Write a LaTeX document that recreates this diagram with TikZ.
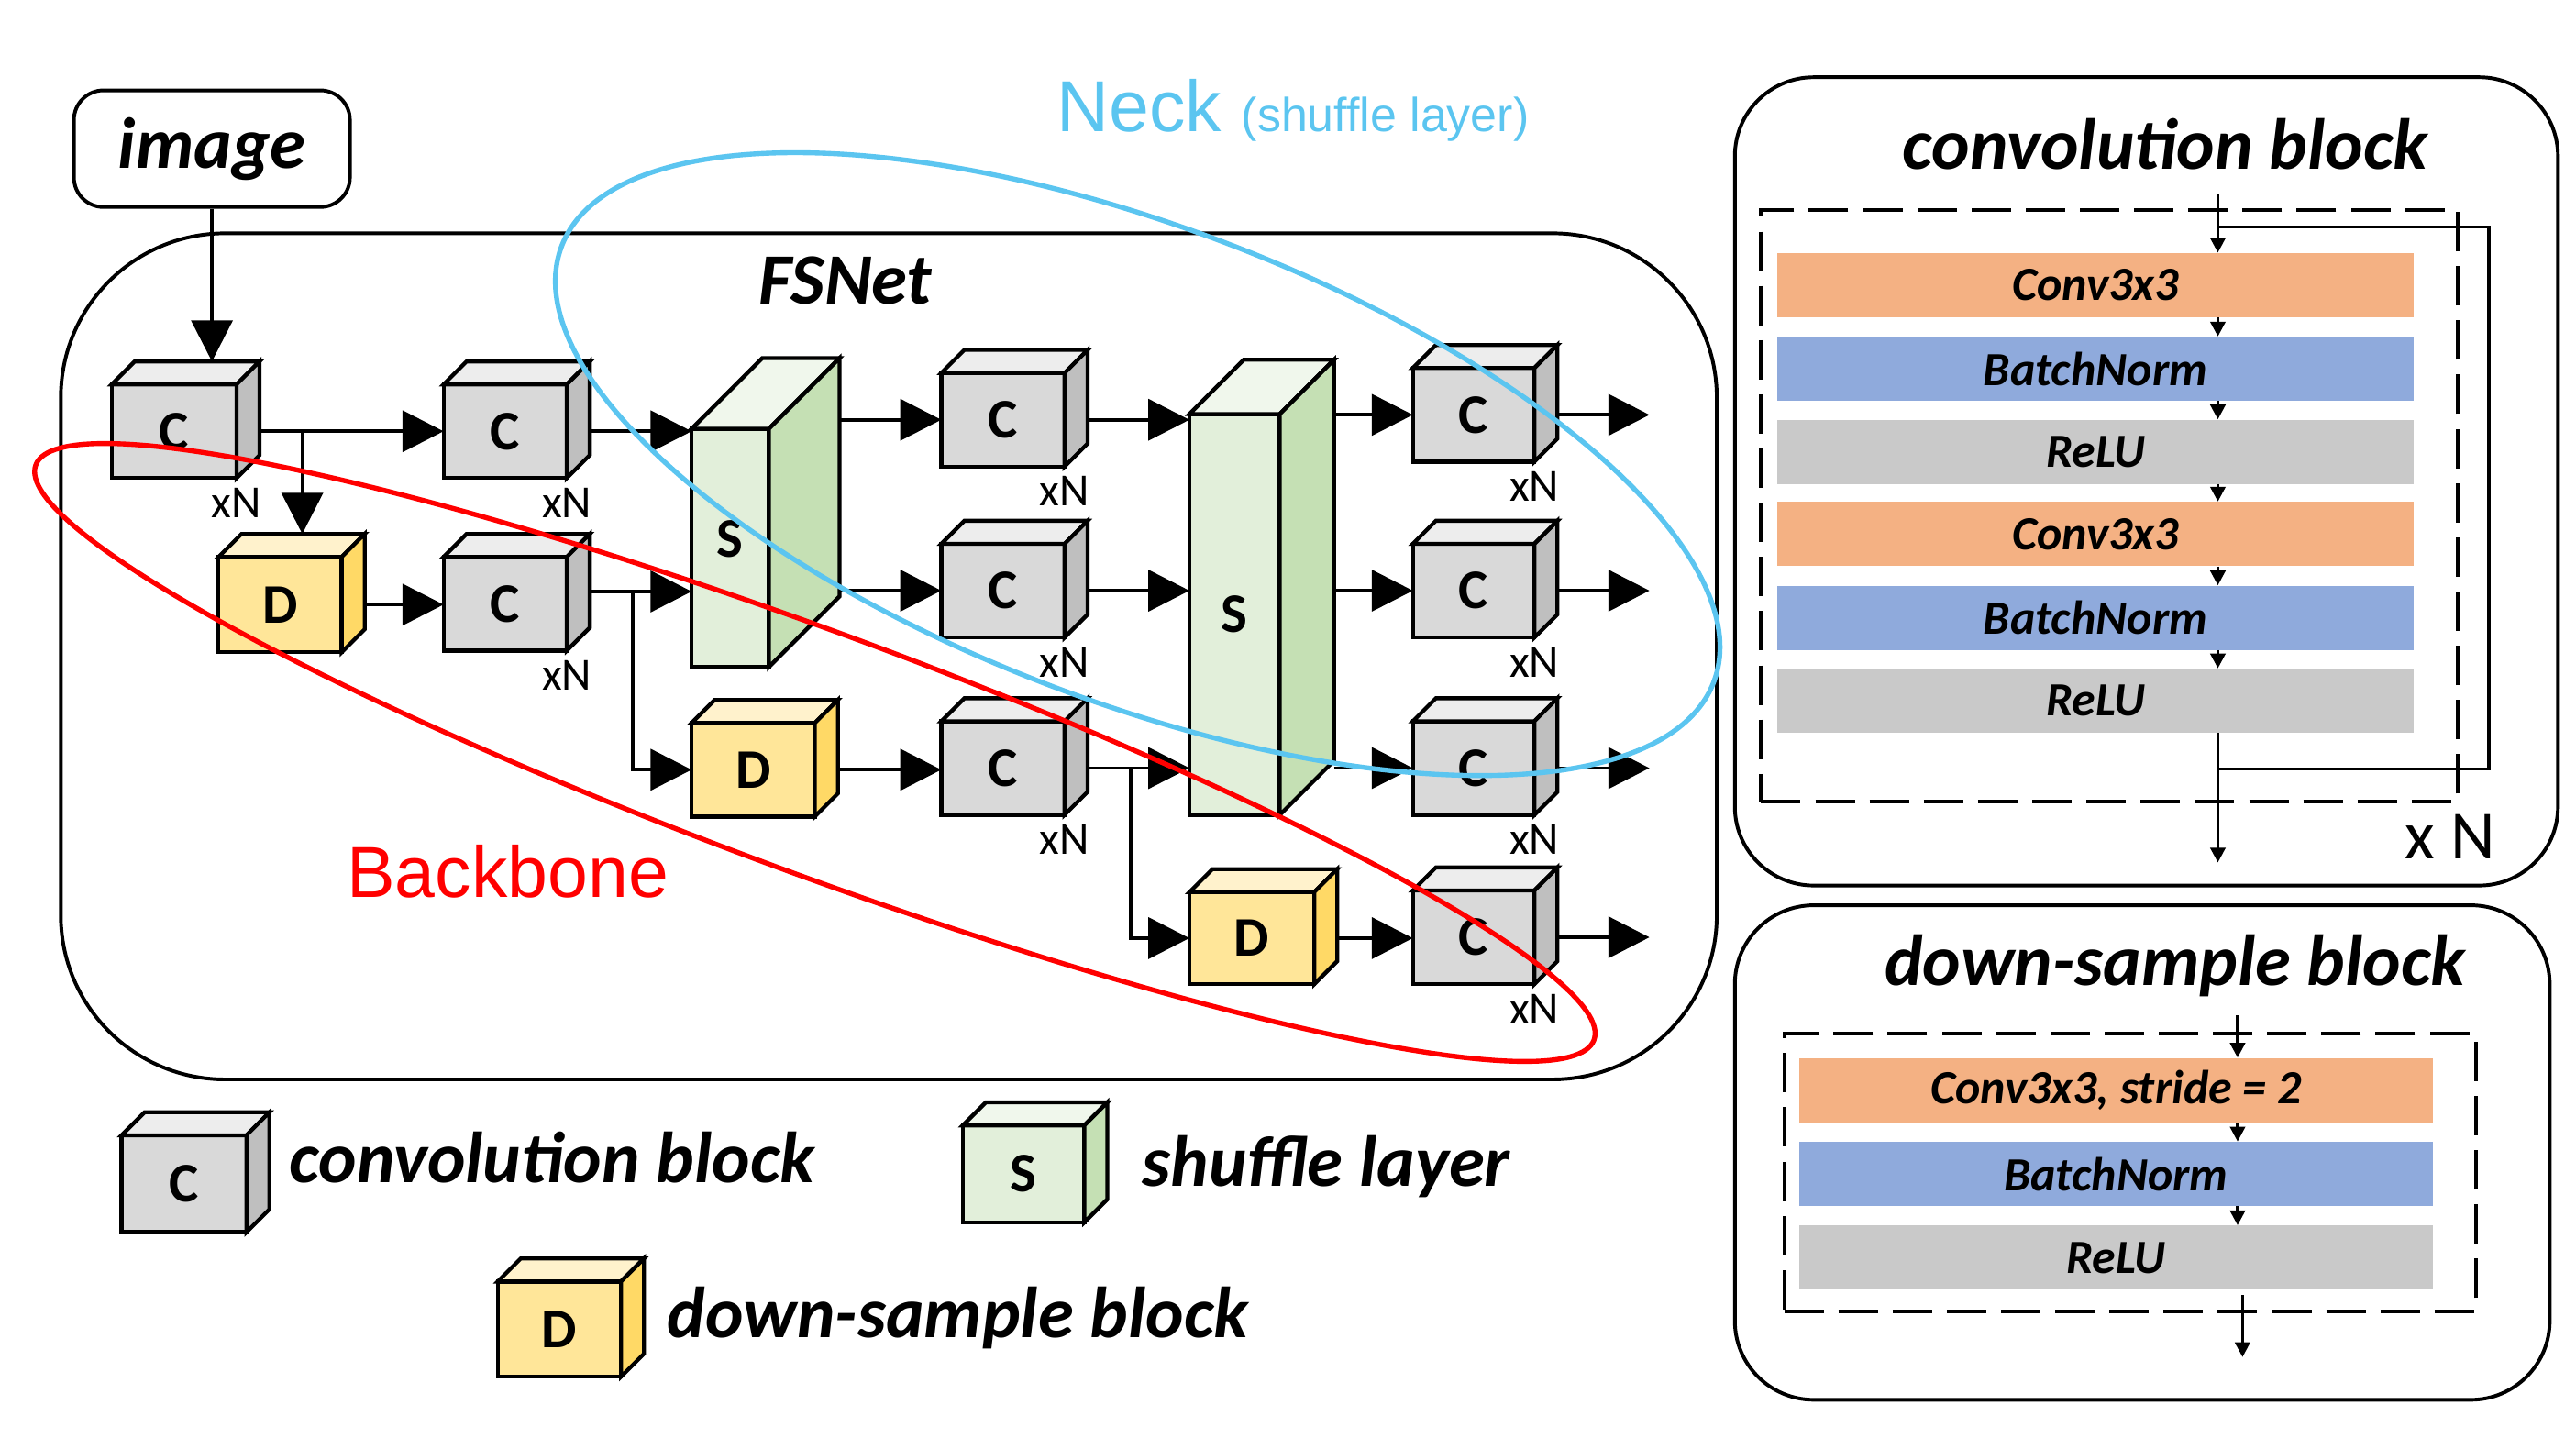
\documentclass[tikz,border=0pt]{standalone}
\usepackage{fontspec}
\setmainfont{Carlito}
\newfontfamily\arialf{Liberation Sans}
\usetikzlibrary{arrows.meta,calc}

\definecolor{cbfront}{HTML}{D9D9D9}
\definecolor{cbtop}{HTML}{EDEDED}
\definecolor{cbside}{HTML}{BFBFBF}
\definecolor{dbfront}{HTML}{FFE699}
\definecolor{dbtop}{HTML}{FFF2CC}
\definecolor{dbside}{HTML}{FFD966}
\definecolor{sbfront}{HTML}{E2EFDA}
\definecolor{sbtop}{HTML}{F0F7EC}
\definecolor{sbside}{HTML}{C5E0B4}
\definecolor{lorange}{HTML}{F4B183}
\definecolor{lblue}{HTML}{8FAADC}
\definecolor{lgray}{HTML}{C9C9C9}
\definecolor{neckblue}{HTML}{5BC5F0}
\definecolor{bbred}{HTML}{FF0000}

\tikzset{
 cubefront/.style={draw, line width=2.4pt, inner sep=0pt, outer sep=0pt, font=\fontsize{34}{34}\selectfont\bfseries},
 cubeedge/.style={draw, line width=2.4pt, line join=miter},
 arr/.style={line width=2.2pt, -{Triangle[length=25pt,width=25pt]}},
 sarr/.style={line width=2pt, -{Triangle[length=9pt,width=9pt]}},
 xnlabel/.style={anchor=base, inner sep=0pt, font=\fontsize{28}{28}\selectfont},
 panel/.style={draw, line width=2.2pt, rounded corners=48pt, inner sep=0pt},
 dashbox/.style={draw, line width=2.2pt, dash pattern=on 24pt off 9pt, inner sep=0pt},
 lyr/.style={inner sep=0pt, font=\fontsize{29}{29}\selectfont\bfseries\itshape},
 ttl/.style={anchor=base, inner sep=0pt, font=\fontsize{44}{44}\selectfont\bfseries\itshape},
 legtxt/.style={anchor=base west, inner sep=0pt, font=\fontsize{44}{44}\selectfont\bfseries\itshape},
}

% name, x, y, w, h, depth, colour prefix, letter
\newcommand\cubeblk[8]{%
  \node[cubefront, fill=#7front, minimum width=#4pt, minimum height=#5pt] (#1) at (#2,#3) {#8};
  \draw[cubeedge, fill=#7top] (#1.north west) -- ++(#6,-#6) coordinate (#1-tb) -- ([shift={(#6,-#6)}]#1.north east) -- (#1.north east) -- cycle;
  \draw[cubeedge, fill=#7side] (#1.north east) -- ([shift={(#6,-#6)}]#1.north east) -- ([shift={(#6,-#6)}]#1.south east) -- (#1.south east) -- cycle;
  \coordinate (#1-e) at ([xshift=#6pt]#1.east);
}
\newcommand\xnlab[1]{\node[xnlabel] (#1-xn) at ([yshift=-24pt]#1.south east) {xN};}

\begin{document}
\begin{tikzpicture}[x=1pt,y=-1pt]
\useasboundingbox (0,0) rectangle (1568,875);

% ---------- main FSNet frame ----------
\node[draw, line width=2.2pt, rounded corners=100pt, minimum width=1008pt, minimum height=515pt, inner sep=0pt] (fsnet) at (541,399.5) {};
\node[ttl] (fsnettitle) at (514.5,185) {FSNet};

% image box
\node[draw, line width=2.2pt, rounded corners=18pt, minimum width=168pt, minimum height=71pt, inner sep=0pt,
      font=\fontsize{44}{44}\selectfont\bfseries\itshape] (img) at (129,90.5) {image};

% ---------- cubes ----------
\cubeblk{C1}{106}{262.5}{76}{57}{14}{cb}{C}
\cubeblk{D1}{170.5}{368}{75}{58}{14}{db}{D}
\cubeblk{C2}{307.5}{262.5}{75}{57}{14}{cb}{C}
\cubeblk{C2b}{307.5}{367.5}{75}{57}{14}{cb}{C}
\cubeblk{S1}{444.5}{333.5}{47}{145}{43}{sb}{\raisebox{11pt}{S}}
\cubeblk{D2}{458.5}{468.5}{75}{57}{14}{db}{D}
\cubeblk{C3a}{610.5}{255.5}{75}{57}{14}{cb}{C}
\cubeblk{C3b}{610.5}{359.5}{75}{57}{14}{cb}{C}
\cubeblk{C3c}{610.5}{467.5}{75}{57}{14}{cb}{C}
\cubeblk{S2}{751.5}{374}{55}{244}{33}{sb}{S}
\cubeblk{D3}{762}{571}{76}{56}{14}{db}{D}
\cubeblk{C5a}{897}{252.5}{74}{57}{14}{cb}{C}
\cubeblk{C5b}{897}{359.5}{74}{57}{14}{cb}{C}
\cubeblk{C5c}{897}{467.5}{74}{57}{14}{cb}{C}
\cubeblk{C5d}{897}{570.5}{74}{57}{14}{cb}{C}

\xnlab{C1}\xnlab{C2}\xnlab{C2b}
\xnlab{C3a}\xnlab{C3b}\xnlab{C3c}
\xnlab{C5a}\xnlab{C5b}\xnlab{C5c}\xnlab{C5d}

% ---------- connectors ----------
\coordinate (outx) at (1004,0);
\coordinate (j1) at (184,262.5);
\coordinate (r2) at (359,360);
\coordinate (j2) at (385,360);
\coordinate (j3) at (688,467.5);

\draw[arr] (img.south) -- (img.south |- C1-tb);
\draw[arr] (C1-e) -- (C2.west);
\draw[arr] (j1) -- (j1 |- D1-tb);
\draw[arr] (C2-e) -- (C2-e -| S1.west);
\draw[arr] (C3a.west -| S1-e) -- (C3a.west);
\draw[arr] (C3a-e) -- (C3a-e -| S2.west);
\draw[arr] (C5a.west -| S2-e) -- (C5a.west);
\draw[arr] (C5a-e) -- (C5a-e -| outx);

\draw[arr] (D1-e) -- (D1-e -| C2b.west);
\draw[arr] (r2) -- (r2 -| S1.west);
\draw[arr] (j2) |- (D2.west);
\draw[arr] (C3b.west -| S1-e) -- (C3b.west);
\draw[arr] (C3b-e) -- (C3b-e -| S2.west);
\draw[arr] (C5b.west -| S2-e) -- (C5b.west);
\draw[arr] (C5b-e) -- (C5b-e -| outx);

\draw[arr] (D2-e) -- (D2-e -| C3c.west);
\draw[arr] (C3c-e) -- (C3c-e -| S2.west);
\draw[arr] (j3) |- (D3.west);
\draw[arr] (C5c.west -| S2-e) -- (C5c.west);
\draw[arr] (C5c-e) -- (C5c-e -| outx);

\draw[arr] (D3-e) -- (D3-e -| C5d.west);
\draw[arr] (C5d-e) -- (C5d-e -| outx);

% ---------- labels ----------
\node[anchor=base west, inner sep=0pt, text=neckblue, font=\arialf] (neck) at (643,80)
  {{\fontsize{44}{44}\selectfont Neck }{\fontsize{29}{29}\selectfont (shuffle layer)}};
\node[anchor=base west, inner sep=0pt, text=bbred, font=\arialf\fontsize{44}{44}\selectfont] (bb) at (211,546) {Backbone};

% ---------- ellipses ----------
\draw[neckblue, line width=3pt, rotate around={-20.7:(692.5,282.5)}] (692.5,282.5) ellipse [x radius=374.9pt, y radius=144.9pt];
\draw[bbred, line width=3pt, rotate around={-20.25:(496,458)}] (496,458) ellipse [x radius=505.5pt, y radius=73.4pt];

% ---------- legend ----------
\cubeblk{LC}{112}{720.5}{76}{59}{14}{cb}{C}
\cubeblk{LS}{623}{714.5}{74}{59}{14}{sb}{S}
\cubeblk{LD}{340.5}{809}{75}{58}{14}{db}{D}
\node[legtxt] (lctxt) at (176,720) {convolution block};
\node[legtxt] (lstxt) at (695,722) {shuffle layer};
\node[legtxt] (ldtxt) at (406,814) {down-sample block};

% ---------- convolution block panel ----------
\node[panel, minimum width=501pt, minimum height=492pt] (cpanel) at (1306.5,293) {};
\node[ttl] (ctitle) at (1318,103) {convolution block};
\node[dashbox, minimum width=424pt, minimum height=360pt] (cdash) at (1284,308) {};
\node[lyr, fill=lorange, minimum width=387pt, minimum height=39pt] (cl1) at (1275.5,173.5) {Conv3x3};
\node[lyr, fill=lblue,   minimum width=387pt, minimum height=39pt] (cl2) at (1275.5,224.5) {BatchNorm};
\node[lyr, fill=lgray,   minimum width=387pt, minimum height=39pt] (cl3) at (1275.5,275) {ReLU};
\node[lyr, fill=lorange, minimum width=387pt, minimum height=39pt] (cl4) at (1275.5,325) {Conv3x3};
\node[lyr, fill=lblue,   minimum width=387pt, minimum height=39pt] (cl5) at (1275.5,376) {BatchNorm};
\node[lyr, fill=lgray,   minimum width=387pt, minimum height=39pt] (cl6) at (1275.5,426.5) {ReLU};
\coordinate (cin) at (1350,118);
\coordinate (sk1) at (1350,138);
\coordinate (sk2) at (1350,468);
\coordinate (cout) at (1350,525);
\draw[sarr] (cin) -- (cin |- cl1.north);
\draw[sarr] (cl1.south -| cin) -- (cl2.north -| cin);
\draw[sarr] (cl2.south -| cin) -- (cl3.north -| cin);
\draw[sarr] (cl3.south -| cin) -- (cl4.north -| cin);
\draw[sarr] (cl4.south -| cin) -- (cl5.north -| cin);
\draw[sarr] (cl5.south -| cin) -- (cl6.north -| cin);
\draw[sarr] (cl6.south -| cin) -- (cout);
\draw[line width=1.8pt] (sk1) -- ++(165,0) |- (sk2);
\node[anchor=base, inner sep=0pt, font=\fontsize{42}{42}\selectfont] (xN) at (1491.5,523) {x N};

% ---------- down-sample block panel ----------
\node[panel, minimum width=496pt, minimum height=301pt] (dpanel) at (1304,701.5) {};
\node[ttl] (dtitle) at (1324,600) {down-sample block};
\node[dashbox, minimum width=421pt, minimum height=169pt] (ddash) at (1296.5,713.5) {};
\node[lyr, fill=lorange, minimum width=386pt, minimum height=39pt] (dl1) at (1288,663.5) {Conv3x3, stride = 2};
\node[lyr, fill=lblue,   minimum width=386pt, minimum height=39pt] (dl2) at (1288,714.5) {BatchNorm};
\node[lyr, fill=lgray,   minimum width=386pt, minimum height=39pt] (dl3) at (1288,765.5) {ReLU};
\coordinate (din) at (1362,618);
\coordinate (dout) at (1365,826);
\draw[sarr] (din) -- (din |- dl1.north);
\draw[sarr] (dl1.south -| din) -- (dl2.north -| din);
\draw[sarr] (dl2.south -| din) -- (dl3.north -| din);
\draw[sarr] ([yshift=-3pt]dl3.south -| dout) -- (dout);

\end{tikzpicture}
\end{document}
